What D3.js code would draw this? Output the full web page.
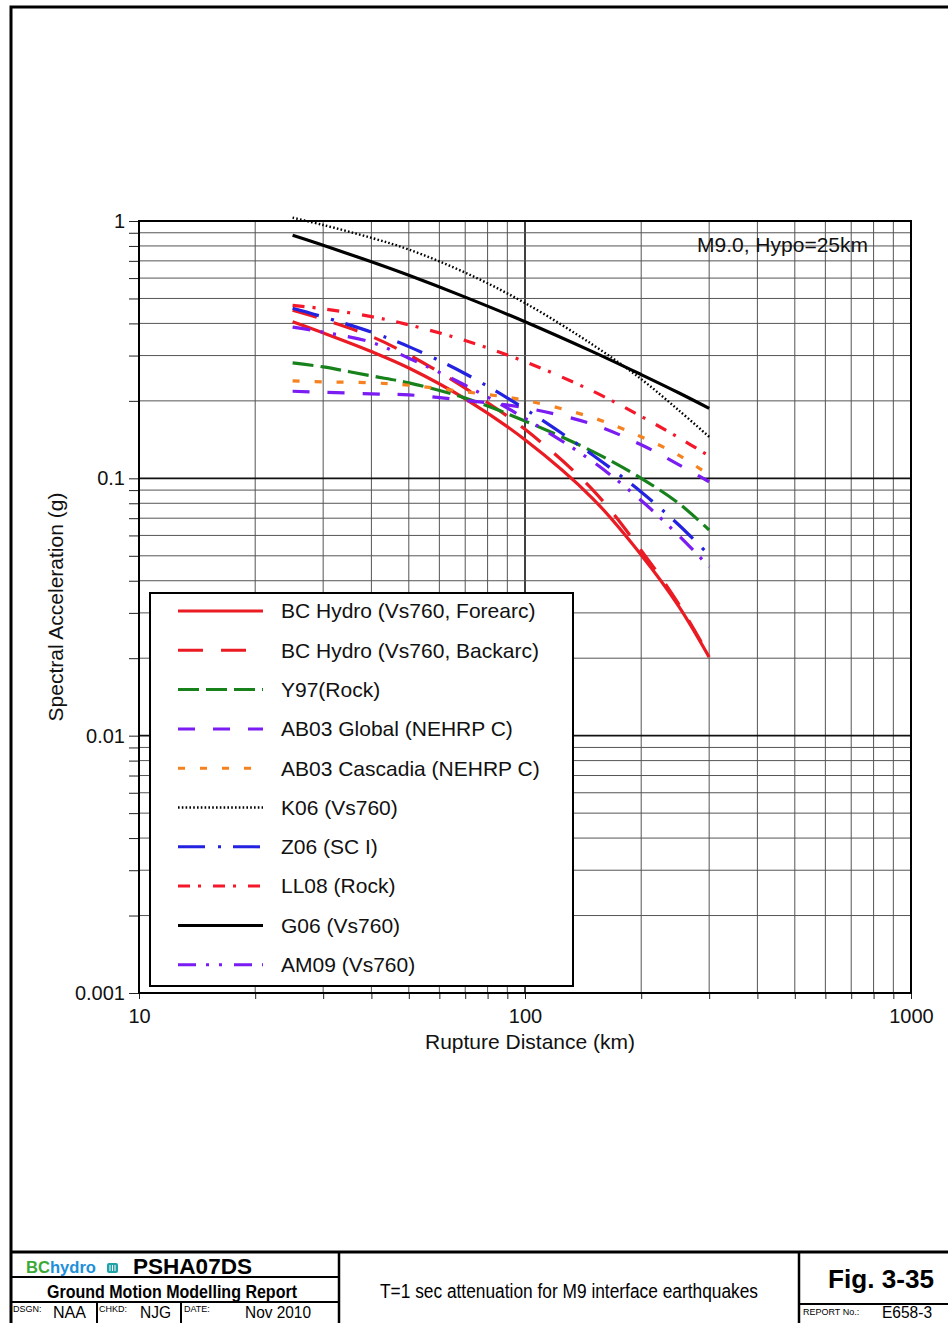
<!DOCTYPE html>
<html>
<head>
<meta charset="utf-8">
<script src="https://cdn.jsdelivr.net/npm/d3@7"></script>
<style>
body { margin: 0; background: #fff; }
svg { display: block; font-family: "Liberation Sans", Arial, Helvetica, sans-serif; }
</style>
</head>
<body>
<svg id="chart"></svg>
<script>
// distances (km) and spectral accelerations (g)
const distances = [25, 30, 40, 50, 70, 100, 150, 200, 250, 300];
const bcHydroForearc = [0.406, 0.3675, 0.311, 0.2685, 0.2038, 0.1412, 0.0833, 0.0504, 0.0319, 0.0202];
const bcHydroBackarc = [0.45, 0.415, 0.356, 0.302, 0.224, 0.155, 0.09, 0.0525, 0.0325, 0.0204];
const y97Rock = [0.281, 0.271, 0.25, 0.235, 0.205, 0.167, 0.127, 0.10, 0.080, 0.063];
const ab03Global = [0.218, 0.216, 0.213, 0.211, 0.201, 0.188, 0.162, 0.135, 0.113, 0.097];
const ab03Cascadia = [0.239, 0.237, 0.235, 0.230, 0.217, 0.201, 0.172, 0.145, 0.123, 0.103];
const k06 = [1.03, 0.965, 0.86, 0.775, 0.63, 0.48, 0.33, 0.243, 0.184, 0.145];
const z06 = [0.458, 0.424, 0.37, 0.325, 0.255, 0.186, 0.123, 0.0885, 0.066, 0.0503];
const ll08 = [0.47, 0.456, 0.425, 0.395, 0.343, 0.284, 0.218, 0.174, 0.144, 0.122];
const g06 = [0.88, 0.805, 0.694, 0.615, 0.506, 0.406, 0.310, 0.253, 0.215, 0.187];
const am09 = [0.387, 0.370, 0.338, 0.293, 0.23, 0.171, 0.116, 0.082, 0.060, 0.0453];

const xLabels = ["10", "100", "1000"];
const yLabels = ["0.001", "0.01", "0.1", "1"];

const series = [
    {name: "BC Hydro (Vs760, Forearc)", values: bcHydroForearc, color: "#ea1b23", dash: null},
    {name: "BC Hydro (Vs760, Backarc)", values: bcHydroBackarc, color: "#ea1b23", dash: "25,18"},
    {name: "Y97(Rock)", values: y97Rock, color: "#17821c", dash: "21,7"},
    {name: "AB03 Global (NEHRP C)", values: ab03Global, color: "#7a1cf2", dash: "17,18"},
    {name: "AB03 Cascadia (NEHRP C)", values: ab03Cascadia, color: "#f5821f", dash: "7,15"},
    {name: "K06 (Vs760)", values: k06, color: "#000", dash: "1.6,2.2", width: 2.4},
    {name: "Z06 (SC I)", values: z06, color: "#2222e0", dash: "27,13,3,12"},
    {name: "LL08 (Rock)", values: ll08, color: "#f4182a", dash: "12,8,3,12"},
    {name: "G06 (Vs760)", values: g06, color: "#000", dash: null},
    {name: "AM09 (Vs760)", values: am09, color: "#7a1cf2", dash: "18,10,3,10,3,12"}
];

const width = 948;
const height = 1323;

const svg = d3.select("#chart")
    .attr("width", width)
    .attr("height", height);

// outer drawing frame
svg.append("path")
    .attr("d", `M11,${height + 5} V7 H${width + 5}`)
    .attr("fill", "none")
    .attr("stroke", "#000")
    .attr("stroke-width", 3);

const x = d3.scaleLog().domain([10, 1000]).range([139, 911]);
const y = d3.scaleLog().domain([0.001, 1]).range([993, 221]);

const isDecade = v => Math.abs(Math.log10(v) - Math.round(Math.log10(v))) < 1e-6;
const xGrid = x.ticks();
const yGrid = y.ticks();

const grid = svg.append("g");

grid.selectAll("line.vx")
    .data(xGrid)
    .enter()
    .append("line")
    .attr("x1", d => x(d))
    .attr("x2", d => x(d))
    .attr("y1", 221)
    .attr("y2", 993)
    .attr("stroke", d => isDecade(d) ? "#111" : "#555")
    .attr("stroke-width", d => isDecade(d) ? 1.6 : 1);

grid.selectAll("line.hy")
    .data(yGrid)
    .enter()
    .append("line")
    .attr("y1", d => y(d))
    .attr("y2", d => y(d))
    .attr("x1", 139)
    .attr("x2", 911)
    .attr("stroke", d => isDecade(d) ? "#111" : "#555")
    .attr("stroke-width", d => isDecade(d) ? 1.6 : 1);

// axes
const yAxis = svg.append("g")
    .attr("transform", "translate(139,0)")
    .call(d3.axisLeft(y)
        .tickValues(yGrid)
        .tickSize(10)
        .tickPadding(4)
        .tickFormat(d => isDecade(d) ? yLabels[Math.round(Math.log10(d)) + 3] : ""));

const xAxis = svg.append("g")
    .attr("transform", "translate(0,993)")
    .call(d3.axisBottom(x)
        .tickValues(xGrid)
        .tickSize(6)
        .tickPadding(10)
        .tickFormat(d => isDecade(d) ? xLabels[Math.round(Math.log10(d)) - 1] : ""));

[xAxis, yAxis].forEach(a => {
    a.select(".domain").remove();
    a.selectAll("line").attr("stroke", "#222").attr("stroke-width", 1);
    a.selectAll("text")
        .attr("font-family", "Liberation Sans, Arial, sans-serif")
        .attr("font-size", 20)
        .attr("fill", "#111");
});

svg.append("rect")
    .attr("x", 139)
    .attr("y", 221)
    .attr("width", 772)
    .attr("height", 772)
    .attr("fill", "none")
    .attr("stroke", "#000")
    .attr("stroke-width", 2);

// axis titles
svg.append("text")
    .attr("x", 530)
    .attr("y", 1049)
    .attr("text-anchor", "middle")
    .attr("font-size", 21)
    .attr("fill", "#111")
    .text("Rupture Distance (km)");

svg.append("text")
    .attr("transform", "translate(63,607) rotate(-90)")
    .attr("text-anchor", "middle")
    .attr("font-size", 21)
    .attr("fill", "#111")
    .text("Spectral Acceleration (g)");

svg.append("text")
    .attr("x", 868)
    .attr("y", 252)
    .attr("text-anchor", "end")
    .attr("font-size", 21)
    .attr("fill", "#111")
    .text("M9.0, Hypo=25km");

// curves
const line = d3.line()
    .x((d, i) => x(distances[i]))
    .y(d => y(d))
    .curve(d3.curveCatmullRom.alpha(0.5));

svg.append("g")
    .selectAll("path")
    .data(series)
    .enter()
    .append("path")
    .attr("d", d => line(d.values))
    .attr("fill", "none")
    .attr("stroke", d => d.color)
    .attr("stroke-width", d => d.width || 3.2)
    .attr("stroke-dasharray", d => d.dash);

// legend
const legend = svg.append("g");

legend.append("rect")
    .attr("x", 150)
    .attr("y", 593)
    .attr("width", 423)
    .attr("height", 393)
    .attr("fill", "#fff")
    .attr("stroke", "#000")
    .attr("stroke-width", 2);

const item = legend.selectAll("g.item")
    .data(series)
    .enter()
    .append("g")
    .attr("transform", (d, i) => `translate(0,${611 + i * 39.3})`);

item.append("line")
    .attr("x1", 178)
    .attr("x2", 263)
    .attr("stroke", d => d.color)
    .attr("stroke-width", d => d.width || 3)
    .attr("stroke-dasharray", d => d.dash);

item.append("text")
    .attr("x", 281)
    .attr("dy", "0.35em")
    .attr("font-size", 21)
    .attr("fill", "#111")
    .text(d => d.name);

// title block
const tb = svg.append("g");
const tbLine = (x1, y1, x2, y2, w) => tb.append("line")
    .attr("x1", x1).attr("y1", y1).attr("x2", x2).attr("y2", y2)
    .attr("stroke", "#000").attr("stroke-width", w);

tbLine(11, 1252, width + 5, 1252, 3);
tbLine(339, 1252, 339, height + 5, 2.5);
tbLine(799, 1252, 799, height + 5, 2.5);
tbLine(11, 1277, 339, 1277, 2);
tbLine(11, 1302, 339, 1302, 2);
tbLine(97, 1302, 97, height + 5, 2);
tbLine(181, 1302, 181, height + 5, 2);
tbLine(799, 1304, width + 5, 1304, 2);

const logo = tb.append("text")
    .attr("x", 26)
    .attr("y", 1273)
    .attr("font-size", 17)
    .attr("font-weight", "bold")
    .attr("textLength", 70)
    .attr("lengthAdjust", "spacingAndGlyphs");
logo.append("tspan").attr("fill", "#3aa935").text("BC");
logo.append("tspan").attr("fill", "#1e8fd9").text("hydro");

tb.append("rect")
    .attr("x", 107).attr("y", 1263)
    .attr("width", 11).attr("height", 10)
    .attr("rx", 2)
    .attr("fill", "#1fa3a8");
[110, 112.5, 115].forEach(px => tbLine(px, 1265, px, 1271, 1).attr("stroke", "#fff"));

tb.append("text")
    .attr("x", 133).attr("y", 1274)
    .attr("font-size", 22).attr("font-weight", "bold")
    .attr("textLength", 119).attr("lengthAdjust", "spacingAndGlyphs")
    .text("PSHA07DS");

tb.append("text")
    .attr("x", 47).attr("y", 1298)
    .attr("font-size", 19).attr("font-weight", "bold")
    .attr("textLength", 250).attr("lengthAdjust", "spacingAndGlyphs")
    .text("Ground Motion Modelling Report");

const small = [["DSGN:", 13], ["CHKD:", 99], ["DATE:", 184]];
small.forEach(([t, px]) => tb.append("text")
    .attr("x", px).attr("y", 1312)
    .attr("font-size", 9)
    .text(t));

const cells = [["NAA", 53, 33], ["NJG", 140, 31], ["Nov 2010", 245, 66]];
cells.forEach(([t, px, w]) => tb.append("text")
    .attr("x", px).attr("y", 1318)
    .attr("font-size", 16)
    .attr("textLength", w).attr("lengthAdjust", "spacingAndGlyphs")
    .text(t));

tb.append("text")
    .attr("x", 380).attr("y", 1298)
    .attr("font-size", 20)
    .attr("textLength", 378).attr("lengthAdjust", "spacingAndGlyphs")
    .text("T=1 sec attenuation for M9 interface earthquakes");

tb.append("text")
    .attr("x", 828).attr("y", 1288)
    .attr("font-size", 26).attr("font-weight", "bold")
    .attr("textLength", 106).attr("lengthAdjust", "spacingAndGlyphs")
    .text("Fig. 3-35");

tb.append("text")
    .attr("x", 803).attr("y", 1315)
    .attr("font-size", 9)
    .text("REPORT No.:");

tb.append("text")
    .attr("x", 882).attr("y", 1318)
    .attr("font-size", 16)
    .attr("textLength", 50).attr("lengthAdjust", "spacingAndGlyphs")
    .text("E658-3");
</script>
</body>
</html>
